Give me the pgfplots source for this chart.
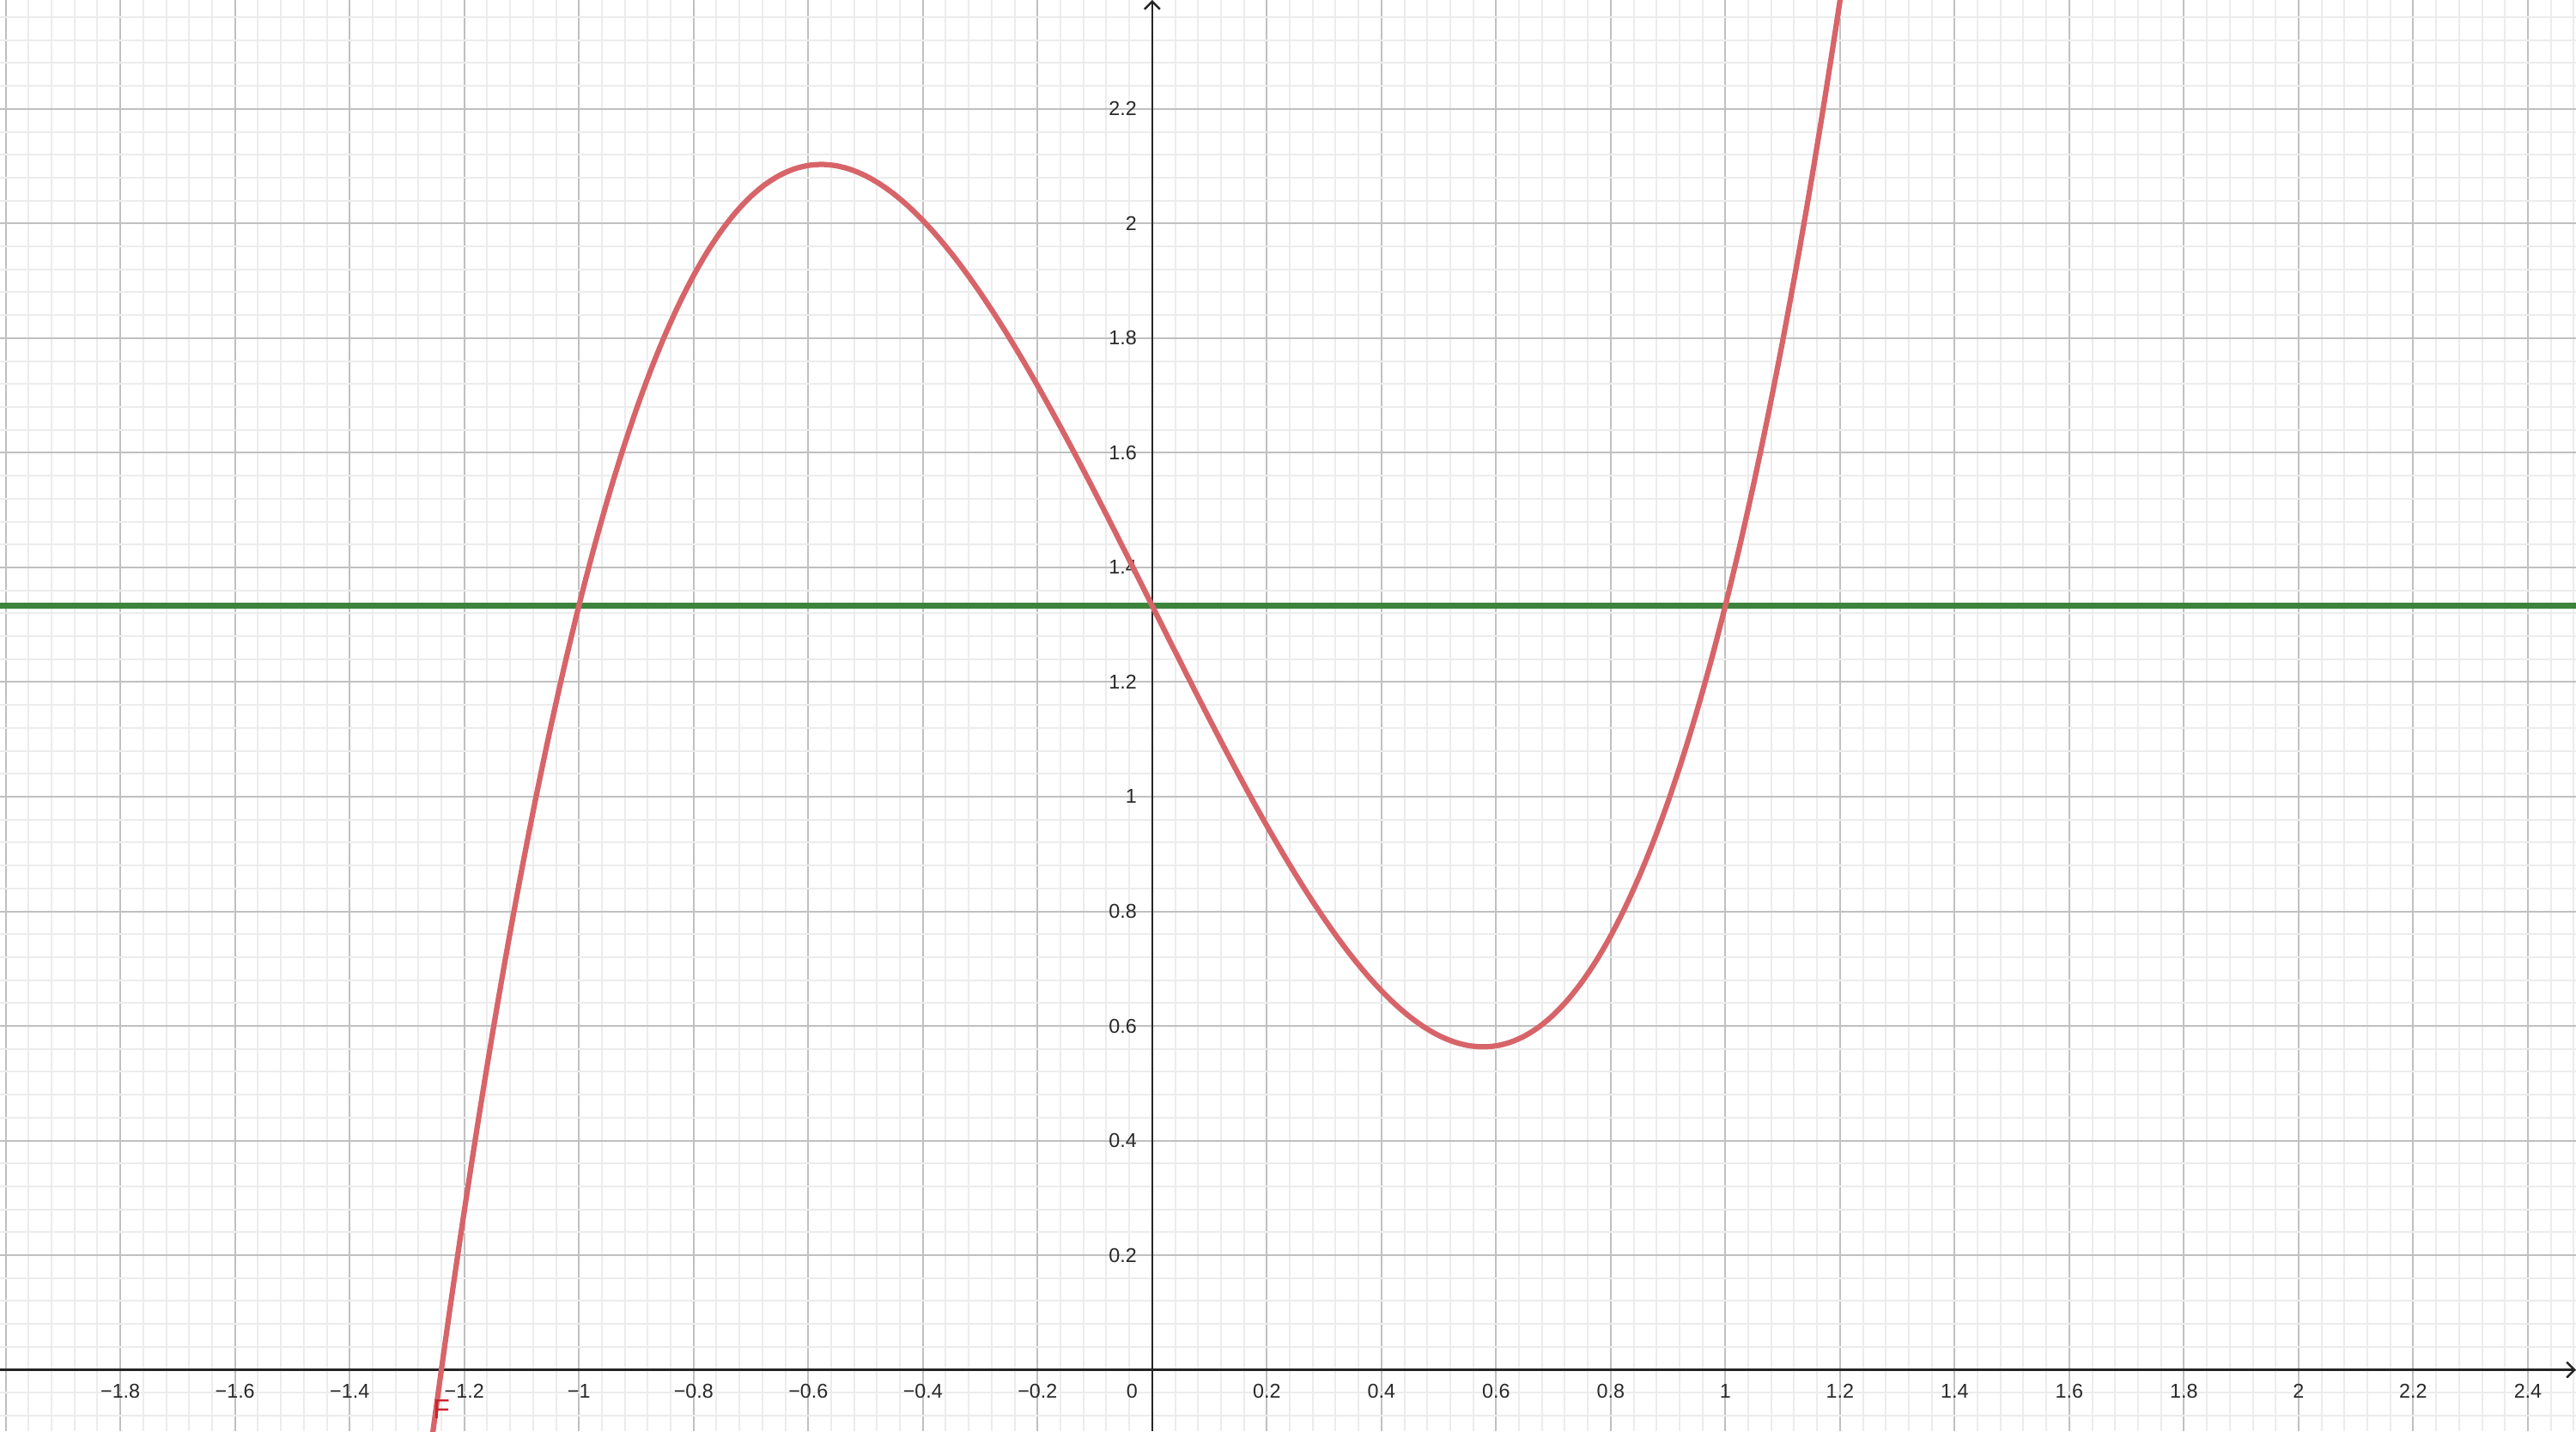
\documentclass[border=0pt]{standalone}
\usepackage{fontspec}
\setmainfont{Liberation Sans}
\usepackage{pgfplots}
\pgfplotsset{compat=1.18}
\usetikzlibrary{arrows.meta}

\definecolor{curvered}{RGB}{215,100,105}
\definecolor{labelred}{RGB}{200,35,45}
\definecolor{linegreen}{RGB}{60,132,60}
\definecolor{axisblack}{RGB}{37,37,37}
\definecolor{majorgrid}{RGB}{192,192,192}
\definecolor{minorgrid}{RGB}{236,236,236}
\definecolor{labelgray}{RGB}{40,40,40}

\begin{document}
\begin{tikzpicture}
\begin{axis}[
    scale only axis,
    width=600pt, height=333.4pt,
    xmin=-2.010, xmax=2.484,
    ymin=-0.107, ymax=2.390,
    axis lines=middle,
    axis line style={line width=0.5pt, color=axisblack,
        -{Straight Barb[length=1.8pt,width=3.6pt,line width=0.5pt]}},
    hide obscured x ticks=false,
    hide obscured y ticks=false,
    major tick length=0pt, minor tick length=0pt,
    xtick={-2,-1.8,-1.6,-1.4,-1.2,-1,-0.8,-0.6,-0.4,-0.2,0,0.2,0.4,0.6,0.8,1,1.2,1.4,1.6,1.8,2,2.2,2.4},
    xticklabels={,−1.8,−1.6,−1.4,−1.2,−1,−0.8,−0.6,−0.4,−0.2,\makebox[0pt][r]{0\hspace{3.4pt}},0.2,0.4,0.6,0.8,1,1.2,1.4,1.6,1.8,2,2.2,2.4},
    ytick={0,0.2,0.4,0.6,0.8,1,1.2,1.4,1.6,1.8,2,2.2},
    yticklabels={,0.2,0.4,0.6,0.8,1,1.2,1.4,1.6,1.8,2,2.2},
    minor xtick={-2,-1.96,...,2.48},
    minor ytick={-0.08,-0.04,...,2.4},
    grid=both,
    major grid style={line width=0.4pt, color=majorgrid},
    minor grid style={line width=0.4pt, color=minorgrid},
    xticklabel style={font=\fontsize{4.66}{5}\selectfont, text=labelgray,
        anchor=north, inner sep=0pt, yshift=-3.2pt},
    yticklabel style={font=\fontsize{4.66}{5}\selectfont, text=labelgray,
        anchor=east, inner sep=0pt, xshift=-3.4pt},
    clip=true,
]
% horizontal line y = 4/3
\addplot[linegreen, line width=1.25pt] coordinates {(-2.010,1.33333) (2.484,1.33333)};
% curve F
\addplot[curvered, line width=1.25pt, smooth] coordinates {
(-1.300,-0.46067) (-1.275,-0.26201) (-1.250,-0.07292) (-1.225,0.10680)
(-1.200,0.27733) (-1.175,0.43886) (-1.150,0.59158) (-1.125,0.73567)
(-1.100,0.87133) (-1.075,0.99874) (-1.050,1.11808) (-1.025,1.22955)
(-1.000,1.33333) (-0.975,1.42961) (-0.950,1.51858) (-0.925,1.60042)
(-0.900,1.67533) (-0.875,1.74349) (-0.850,1.80508) (-0.825,1.86030)
(-0.800,1.90933) (-0.775,1.95236) (-0.750,1.98958) (-0.725,2.02117)
(-0.700,2.04733) (-0.675,2.06824) (-0.650,2.08408) (-0.625,2.09505)
(-0.600,2.10133) (-0.575,2.10311) (-0.550,2.10058) (-0.525,2.09393)
(-0.500,2.08333) (-0.475,2.06899) (-0.450,2.05108) (-0.425,2.02980)
(-0.400,2.00533) (-0.375,1.97786) (-0.350,1.94758) (-0.325,1.91467)
(-0.300,1.87933) (-0.275,1.84174) (-0.250,1.80208) (-0.225,1.76055)
(-0.200,1.71733) (-0.175,1.67261) (-0.150,1.62658) (-0.125,1.57942)
(-0.100,1.53133) (-0.075,1.48249) (-0.050,1.43308) (-0.025,1.38330)
(0.000,1.33333) (0.025,1.28336) (0.050,1.23359) (0.075,1.18417)
(0.100,1.13534) (0.125,1.08724) (0.150,1.04009) (0.175,0.99405)
(0.200,0.94934) (0.225,0.90611) (0.250,0.86459) (0.275,0.82492)
(0.300,0.78734) (0.325,0.75199) (0.350,0.71909) (0.375,0.68880)
(0.400,0.66134) (0.425,0.63686) (0.450,0.61559) (0.475,0.59768)
(0.500,0.58334) (0.525,0.57274) (0.550,0.56609) (0.575,0.56356)
(0.600,0.56534) (0.625,0.57162) (0.650,0.58259) (0.675,0.59843)
(0.700,0.61934) (0.725,0.64549) (0.750,0.67709) (0.775,0.71430)
(0.800,0.75734) (0.825,0.80636) (0.850,0.86159) (0.875,0.92317)
(0.900,0.99134) (0.925,1.06624) (0.950,1.14809) (0.975,1.23705)
(1.000,1.33333) (1.025,1.43711) (1.050,1.54859) (1.075,1.66792)
(1.100,1.79534) (1.125,1.93099) (1.150,2.07509) (1.175,2.22780)
(1.200,2.38934) (1.225,2.55986) (1.250,2.73959)
};
\node[anchor=south west, inner sep=0pt, text=labelred,
      font=\fontsize{6.4}{7}\selectfont] at (axis cs:-1.256,-0.086) {F};
\end{axis}
\pgfresetboundingbox
\path (current axis.south west) rectangle (current axis.north east);
\end{tikzpicture}
\end{document}
